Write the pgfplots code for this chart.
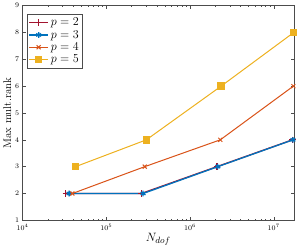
\documentclass[border=0pt]{standalone}
\usepackage{pgfplots}
\pgfplotsset{compat=1.18}
\definecolor{c1}{rgb}{0.6350,0.0780,0.1840}
\definecolor{c2}{rgb}{0,0.4470,0.7410}
\definecolor{c3}{rgb}{0.8500,0.3250,0.0980}
\definecolor{c4}{rgb}{0.9290,0.6940,0.1250}
\begin{document}
\begin{tikzpicture}
\begin{axis}[
  scale only axis,
  width=269pt, height=213pt,
  xmode=log,
  xmin=1e4, xmax=1.74e7,
  ymin=1, ymax=9,
  ytick={1,2,3,4,5,6,7,8,9},
  xtick={1e4,1e5,1e6,1e7},
  axis line style={gray!60!black, line width=0.4pt},
  every tick/.style={gray!60!black},
  major tick length=3pt, minor tick length=1.7pt,
  tick label style={font=\fontsize{7}{8}\selectfont},
  xlabel={$N_{dof}$},
  ylabel={Max mult.rank},
  xlabel style={font=\fontsize{13}{14}\selectfont, yshift=4pt},
  ylabel style={font=\fontsize{11}{12}\selectfont, yshift=-3pt},
  legend style={at={(0.015,0.96)}, anchor=north west, draw=gray!60!black,
    font=\fontsize{11.5}{13}\selectfont, row sep=-1pt, inner sep=1.5pt},
  legend cell align=left,
  legend image code/.code={
    \draw[mark repeat=2,mark phase=2] plot coordinates {(0pt,0pt) (9.5pt,0pt) (19pt,0pt)};
  },
]
\addplot[c1, line width=1.3pt, mark=+, mark size=3.2pt, mark options={solid}] coordinates {
 (32768,2) (262144,2) (2097152,3) (16777216,4)};
\addlegendentry{$p=2$}
\addplot[c2, line width=1.3pt, mark=asterisk, mark size=2.8pt, mark options={solid}] coordinates {
 (35937,2) (274625,2) (2146689,3) (16974593,4)};
\addlegendentry{$p=3$}
\addplot[c3, line width=1pt, mark=x, mark size=2.8pt, mark options={solid}] coordinates {
 (39304,2) (287496,3) (2299968,4) (17173512,6)};
\addlegendentry{$p=4$}
\addplot[c4, line width=1pt, mark=square*, mark size=3.2pt, mark options={solid}] coordinates {
 (42875,3) (300763,4) (2352637,6) (17373979,8)};
\addlegendentry{$p=5$}
\end{axis}
\end{tikzpicture}
\end{document}
